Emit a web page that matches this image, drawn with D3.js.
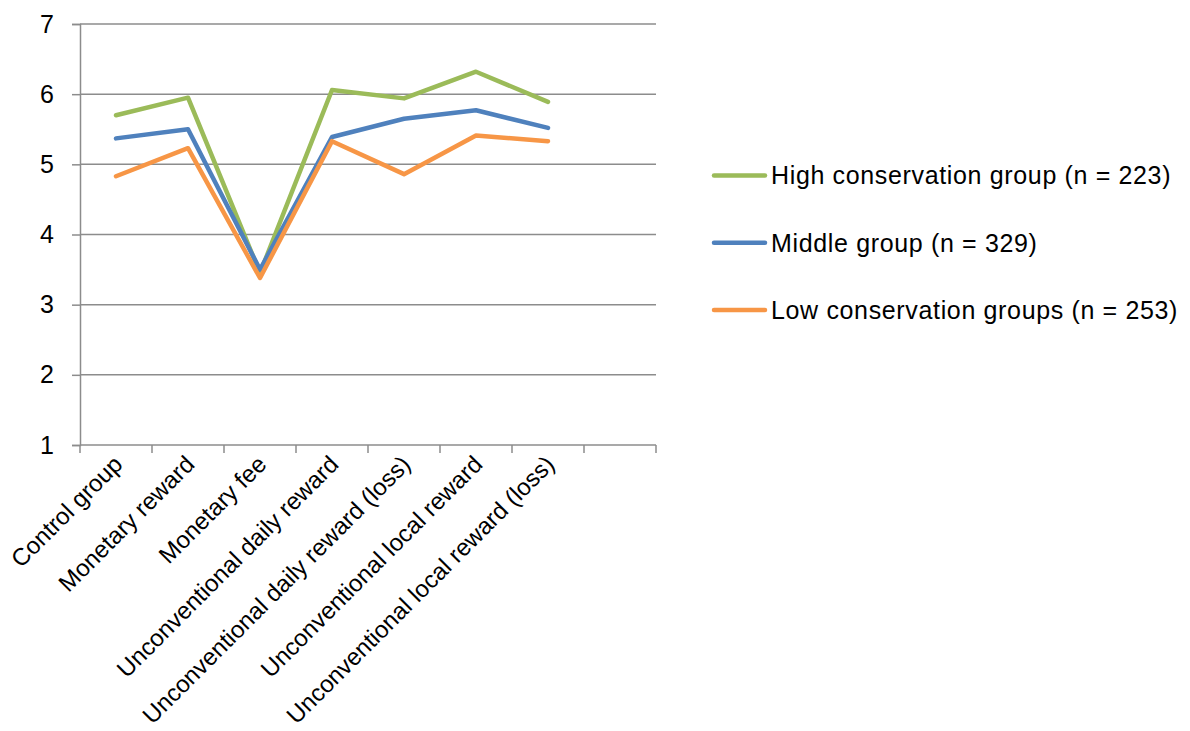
<!DOCTYPE html>
<html><head><meta charset="utf-8">
<script src="https://cdn.jsdelivr.net/npm/d3@7"></script>
<style>
body{margin:0;background:#fff;}
svg{display:block;font-family:"Liberation Sans",Arial,sans-serif;}
</style></head>
<body>
<svg id="c" width="1190" height="731"></svg>
<script>
const categories = ["Control group","Monetary reward","Monetary fee","Unconventional daily reward","Unconventional daily reward (loss)","Unconventional local reward","Unconventional local reward (loss)",""];
const seriesNames = ["High conservation group (n = 223)","Middle group (n = 329)","Low conservation groups (n = 253)"];
const highValues = [5.70,5.95,3.45,6.06,5.94,6.32,5.89];
const middleValues = [5.37,5.50,3.50,5.39,5.65,5.77,5.52];
const lowValues = [4.83,5.23,3.38,5.33,4.86,5.41,5.33];
const yTicks = [1,2,3,4,5,6,7];
const colors = ["#9BBB59","#4F81BD","#F79646"];

(function(){
const svg = d3.select("#c");
const pL=80,pR=656,pT=24,pB=445;
const fs=25;
const x = d3.scaleBand().domain(categories.map((c,i)=>i)).range([pL,pR]).paddingInner(0).paddingOuter(0);
const y = d3.scaleLinear().domain([1,7]).range([pB,pT]);
const grid="#8c8c8c";

svg.append("g").selectAll("line").data(yTicks.filter(t=>t>1)).join("line")
  .attr("x1",pL).attr("x2",pR).attr("y1",d=>y(d)).attr("y2",d=>y(d))
  .attr("stroke",grid).attr("stroke-width",1.5);

const ya = svg.append("g").attr("transform",`translate(${pL},0)`)
  .call(d3.axisLeft(y).tickValues(yTicks).tickSize(8).tickPadding(18).tickFormat(d3.format("d")));
ya.select(".domain").attr("stroke",grid).attr("stroke-width",1.5);
ya.selectAll(".tick line").attr("stroke",grid).attr("stroke-width",1.5);
ya.selectAll("text").attr("font-size",fs).attr("fill","#000").attr("font-family","Liberation Sans, Arial, sans-serif");

svg.append("line").attr("x1",pL).attr("x2",pR).attr("y1",pB).attr("y2",pB).attr("stroke",grid).attr("stroke-width",1.5);
const edges = categories.map((c,i)=>x(i)).concat([x.range()[1]]);
svg.append("g").selectAll("line").data(edges).join("line")
  .attr("x1",d=>d).attr("x2",d=>d).attr("y1",pB).attr("y2",pB+8)
  .attr("stroke",grid).attr("stroke-width",1.5);
const cx = i => x(i)+x.bandwidth()/2;
svg.append("g").selectAll("text").data(categories).join("text")
  .attr("transform",(d,i)=>`translate(${cx(i)-4},${pB+9}) rotate(-45)`)
  .attr("text-anchor","end").attr("font-size",24).attr("fill","#000").attr("dy","0.7em")
  .text(d=>d);

const seriesValues=[highValues,middleValues,lowValues];
const line = d3.line().x((d,i)=>cx(i)).y(d=>y(d));
seriesValues.forEach((vals,k)=>{
  svg.append("path").datum(vals).attr("d",line).attr("fill","none")
    .attr("stroke",colors[k]).attr("stroke-width",4.5).attr("stroke-linejoin","round").attr("stroke-linecap","round");
});

const lg = svg.append("g");
seriesNames.forEach((n,k)=>{
  const ly = 175.5 + k*67.3;
  lg.append("line").attr("x1",714).attr("x2",765).attr("y1",ly).attr("y2",ly)
    .attr("stroke",colors[k]).attr("stroke-width",4.5).attr("stroke-linecap","round");
  lg.append("text").attr("x",771).attr("y",ly).attr("dy","0.35em").attr("font-size",fs)
    .attr("letter-spacing","0.65px").attr("fill","#000").text(n);
});
})();
</script>
</body></html>
